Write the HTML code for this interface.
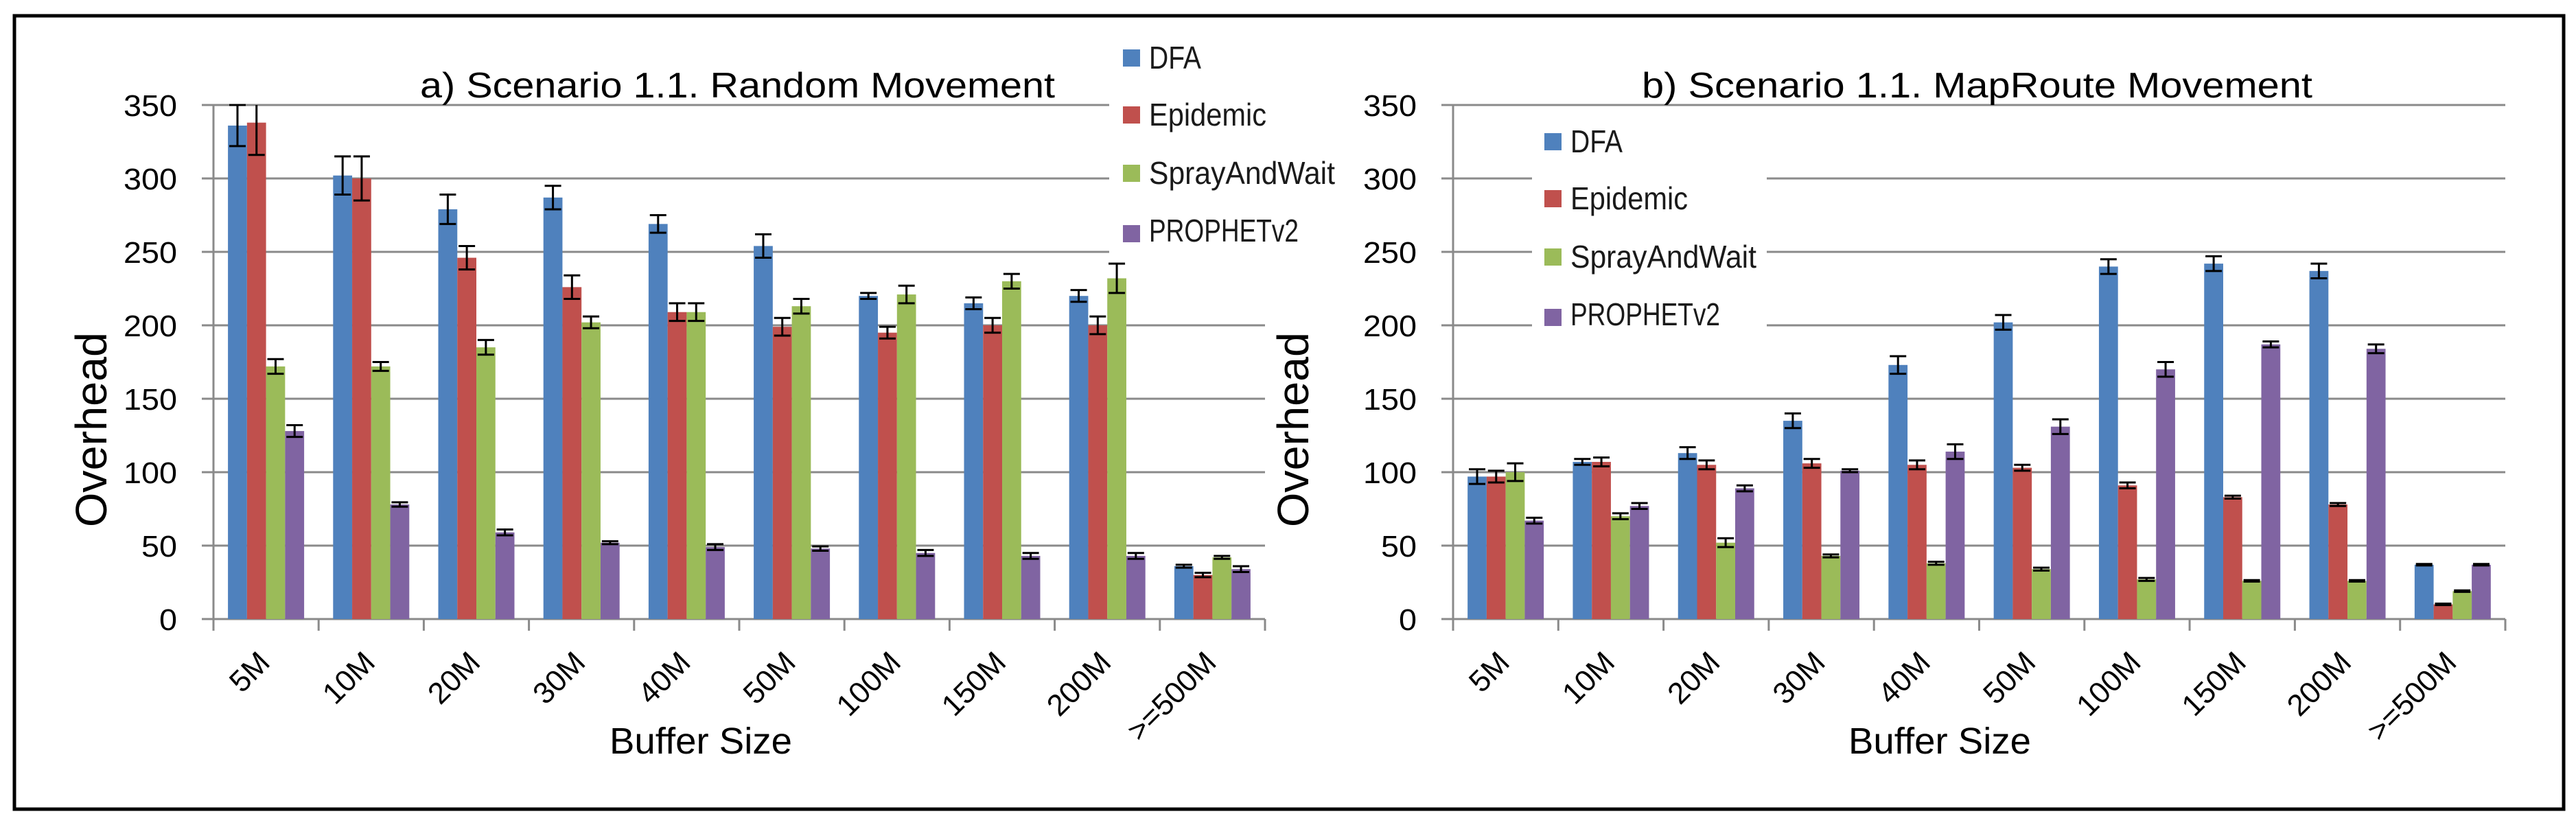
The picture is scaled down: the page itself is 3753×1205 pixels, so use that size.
<!DOCTYPE html>
<html><head><meta charset="utf-8"><style>
html,body{margin:0;padding:0;background:#fff}
svg{display:block;font-family:"Liberation Sans",sans-serif}
</style></head><body>
<svg id="c" width="3753" height="1205" viewBox="0 0 3753 1205" xmlns="http://www.w3.org/2000/svg">
<rect x="21" y="23" width="3714" height="1156" fill="#fff" stroke="#000" stroke-width="5"/>
</svg>
<script>
const categories=["5M","10M","20M","30M","40M","50M","100M","150M","200M",">=500M"];
const seriesNames=["DFA","Epidemic","SprayAndWait","PROPHETv2"];
const colors=["#4F81BD","#C0504D","#9BBB59","#8064A2"];
const yTicks=[0,50,100,150,200,250,300,350];
const aDFA=[336,302,279,287,269,254,220,215,220,36];
const aEpi=[338,300,246,226,209,199,195,200,200,30];
const aSpray=[172,172,185,202,209,213,221,230,232,42];
const aProph=[128,78,59,52,49,48,45,43,43,34];
const aDFAerr=[14,13,10,8,6,8,2,4,4,1];
const aEpiErr=[22,15,8,8,6,6,4,5,6,1.5];
const aSprayErr=[5,3,5,4,6,5,6,5,10,1];
const aProphErr=[4,1.5,2,1,2,1.5,2,2,2,2];
const bDFA=[97,107,113,135,173,202,240,242,237,37];
const bEpi=[97,107,105,106,105,103,91,83,78,10];
const bSpray=[100,70,52,43,38,34,27,26,26,19];
const bProph=[67,77,89,101,114,131,170,187,184,37];
const bDFAerr=[5,2,4,5,6,5,5,5,5,0.5];
const bEpiErr=[4,3,3,3,3,2,2,1,1,0.5];
const bSprayErr=[6,2,3,1,1,1,1,0.5,0.5,0.5];
const bProphErr=[2,2,2,1,5,5,5,2,3,0.5];

const NS="http://www.w3.org/2000/svg";
const svg=document.getElementById('c');
function mk(tag,attrs,parent){const e=document.createElementNS(NS,tag);for(const k in attrs)e.setAttribute(k,attrs[k]);(parent||svg).appendChild(e);return e;}

function chart(o){
  const g=mk('g',{});
  
  
  const x0=o.x0,x1=o.x1,yTop=153,yBot=902,yMax=350;
  const y=v=>yBot-(Math.min(v,yMax)/yMax)*(yBot-yTop);
  const cw=(x1-x0)/categories.length;
  // gridlines
  yTicks.forEach(t=>{
    if(t===0)return;
    const l=mk('line',{x1:x0-17,x2:x1,y1:y(t),y2:y(t),stroke:'#8a8a8a','stroke-width':3},g);
    
    
  });
  yTicks.forEach(t=>{
    const tx=mk('text',{x:x0-53,y:y(t)+16,'font-size':44,'text-anchor':'end',fill:'#000',textLength:String(t).length*26,lengthAdjust:'spacingAndGlyphs'},g);
    tx.textContent=t;
    
    
  });
  const ya=mk('line',{x1:x0,x2:x0,y1:yTop,y2:yBot,stroke:'#8a8a8a','stroke-width':3},g);
  
  
  const xa=mk('line',{x1:x0-17,x2:x1,y1:yBot,y2:yBot,stroke:'#8a8a8a','stroke-width':3},g);
  
  
  for(let i=0;i<=categories.length;i++){
    const tk=mk('line',{x1:x0+i*cw,x2:x0+i*cw,y1:yBot,y2:yBot+17,stroke:'#8a8a8a','stroke-width':3},g);
    
    
  }
  const bw=27.75, off=(cw-4*bw)/2;
  o.series.forEach((vals,s)=>{
    vals.forEach((v,i)=>{
      const bx=x0+i*cw+off+s*bw;
      const r=mk('rect',{x:bx,y:y(v),width:bw,height:yBot-y(v),fill:colors[s]},g);
      
      
      const e=o.errs[s][i];
      const cx=bx+bw/2, ya1=y(v+e), yb1=y(v-e);
      const eb=mk('path',{d:`M${cx},${ya1}V${yb1}M${cx-12},${ya1}H${cx+12}M${cx-12},${yb1}H${cx+12}`,stroke:'#000','stroke-width':3,fill:'none'},g);
      if(v+e>yMax) eb.setAttribute('d',`M${cx},${ya1}V${yb1}M${cx-12},${yb1}H${cx+12}`);
      
      
    });
  });
  categories.forEach((c,i)=>{
    const ax=x0+i*cw+cw/2+8, ay=968;
    const t=mk('text',{x:ax,y:ay,'font-size':44,'text-anchor':'end',transform:`rotate(-45 ${ax} ${ay})`,fill:'#000'},g);
    t.textContent=c;
    
    
  });
  const xt=mk('text',{x:o.xtc,y:1098,'font-size':54,'text-anchor':'middle',textLength:266,lengthAdjust:'spacingAndGlyphs'},g);
  xt.textContent='Buffer Size';
  
  
  const yt=mk('text',{x:o.ylx,y:626,'font-size':64,'text-anchor':'middle',transform:`rotate(-90 ${o.ylx} 626)`,dy:22,textLength:284,lengthAdjust:'spacingAndGlyphs'},g);
  yt.textContent='Overhead';
  
  
  const tt=mk('text',{x:o.tx,y:142,'font-size':52,textLength:o.tw,lengthAdjust:'spacingAndGlyphs'},g);
  tt.textContent=o.title;
  
  
  // legend
  const lg=mk('g',{},g);
  
  
  mk('rect',{x:o.lbx,y:o.lby,width:o.lbw,height:o.lbh,fill:'#fff'},lg);
  const widths=[76,171,271,218];
  const sqY=[72,155,240,328], baseY=[100,183,268,352];
  seriesNames.forEach((n,s)=>{
    const sq=mk('rect',{x:o.lx,y:sqY[s]+o.ldy,width:25,height:25,fill:colors[s]},lg);
    
    
    const lt=mk('text',{x:o.lx+38,y:baseY[s]+o.ldy,'font-size':46,textLength:widths[s],lengthAdjust:'spacingAndGlyphs',fill:'#1a1a1a'},lg);
    lt.textContent=n;
    
    
  });
}
chart({name:'chart-random-movement',x0:311,x1:1843,series:[aDFA,aEpi,aSpray,aProph],errs:[aDFAerr,aEpiErr,aSprayErr,aProphErr],
  title:'a) Scenario 1.1. Random Movement',tx:612,tw:925,xtc:1021,ylx:133,lx:1636,ldy:0,lbx:1616,lby:40,lbw:330,lbh:330});
chart({name:'chart-maproute-movement',x0:2117,x1:3650,series:[bDFA,bEpi,bSpray,bProph],errs:[bDFAerr,bEpiErr,bSprayErr,bProphErr],
  title:'b) Scenario 1.1. MapRoute Movement',tx:2392,tw:977,xtc:2826,ylx:1884,lx:2250,ldy:122,lbx:2232,lby:180,lbw:342,lbh:300});
</script>
</body></html>
